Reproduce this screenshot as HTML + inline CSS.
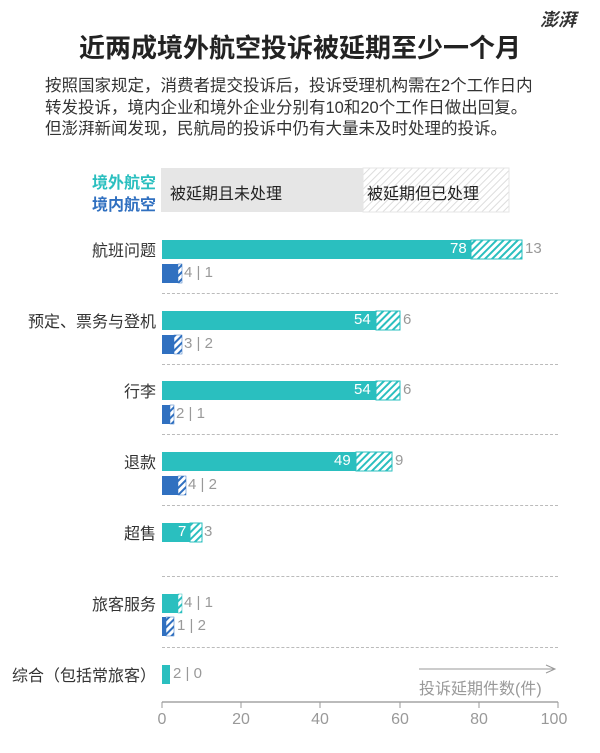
<!DOCTYPE html>
<html><head><meta charset="utf-8"><style>
body{margin:0;background:#fff;width:600px;height:753px;position:relative;overflow:hidden;font-family:"Liberation Sans","Noto Sans CJK SC",sans-serif}
.a{position:absolute;white-space:nowrap}
.lab{position:absolute;right:444px;font-size:16px;color:#333;text-align:right}
.v{position:absolute;font-size:15px;color:#999}
.dl{position:absolute;left:162px;width:396px;border-top:1px dashed #bbb;height:0}
</style></head><body>
<svg width="600" height="753" style="position:absolute;left:0;top:0">
<defs>
<pattern id="ht" width="5" height="5" patternUnits="userSpaceOnUse" patternTransform="rotate(45)"><rect width="5" height="5" fill="#fff"/><rect width="2" height="5" fill="#2abfbf"/></pattern>
<pattern id="hb" width="5" height="5" patternUnits="userSpaceOnUse" patternTransform="rotate(45)"><rect width="5" height="5" fill="#fff"/><rect width="2" height="5" fill="#3070c0"/></pattern>
<pattern id="hg" width="5" height="5" patternUnits="userSpaceOnUse" patternTransform="rotate(45)"><rect width="5" height="5" fill="#fff"/><rect width="1" height="5" fill="#ddd"/></pattern>
</defs>
<rect x="161" y="168" width="202" height="44" fill="#e6e6e6"/>
<rect x="363" y="168" width="146" height="44" fill="url(#hg)" stroke="#e6e6e6"/>
<g>
<rect x="162" y="240" width="309" height="19" fill="#2abfbf"/><rect x="471" y="240" width="51" height="19" fill="url(#ht)" stroke="#2abfbf"/>
<rect x="162" y="264" width="16" height="19" fill="#3070c0"/><rect x="178" y="264" width="4" height="19" fill="url(#hb)" stroke="#3070c0" stroke-width=".5"/>
<rect x="162" y="311" width="214" height="19" fill="#2abfbf"/><rect x="376" y="311" width="24" height="19" fill="url(#ht)" stroke="#2abfbf"/>
<rect x="162" y="335" width="12" height="19" fill="#3070c0"/><rect x="174" y="335" width="8" height="19" fill="url(#hb)" stroke="#3070c0" stroke-width=".5"/>
<rect x="162" y="381" width="214" height="19" fill="#2abfbf"/><rect x="376" y="381" width="24" height="19" fill="url(#ht)" stroke="#2abfbf"/>
<rect x="162" y="405" width="8" height="19" fill="#3070c0"/><rect x="170" y="405" width="4" height="19" fill="url(#hb)" stroke="#3070c0" stroke-width=".5"/>
<rect x="162" y="452" width="194" height="19" fill="#2abfbf"/><rect x="356" y="452" width="36" height="19" fill="url(#ht)" stroke="#2abfbf"/>
<rect x="162" y="476" width="16" height="19" fill="#3070c0"/><rect x="178" y="476" width="8" height="19" fill="url(#hb)" stroke="#3070c0" stroke-width=".5"/>
<rect x="162" y="523" width="28" height="19" fill="#2abfbf"/><rect x="190" y="523" width="12" height="19" fill="url(#ht)" stroke="#2abfbf"/>
<rect x="162" y="594" width="16" height="19" fill="#2abfbf"/><rect x="178" y="594" width="4" height="19" fill="url(#ht)" stroke="#2abfbf" stroke-width=".5"/>
<rect x="162" y="617" width="4" height="19" fill="#3070c0"/><rect x="166" y="617" width="8" height="19" fill="url(#hb)" stroke="#3070c0" stroke-width=".5"/>
<rect x="162" y="665" width="8" height="19" fill="#2abfbf"/>
</g>
<line x1="162" y1="702" x2="558" y2="702" stroke="#bbb" stroke-width="2"/>
<g stroke="#999"><line x1="162" y1="702" x2="162" y2="708"/><line x1="241" y1="702" x2="241" y2="708"/><line x1="320" y1="702" x2="320" y2="708"/><line x1="400" y1="702" x2="400" y2="708"/><line x1="479" y1="702" x2="479" y2="708"/><line x1="558" y1="702" x2="558" y2="708"/></g>
<line x1="419" y1="669" x2="554" y2="669" stroke="#999"/><path d="M546 665 L555 669 L546 673" fill="none" stroke="#999"/>
<g font-size="16" fill="#999" text-anchor="middle" font-family="Liberation Sans"><text x="162" y="724">0</text><text x="241" y="724">20</text><text x="320" y="724">40</text><text x="400" y="724">60</text><text x="479" y="724">80</text><text x="554" y="724">100</text></g>
</svg>
<div class="a" style="left:0;width:600px;top:28px;text-align:center;font-size:26px;font-weight:bold;color:#222">近两成境外航空投诉被延期至少一个月</div>
<div class="a" style="left:540px;top:6px;font-size:18px;font-weight:bold;color:#333;font-style:italic">澎湃</div>
<div class="a" style="left:45px;top:76px;font-size:16.5px;line-height:21.5px;color:#333">按照国家规定，消费者提交投诉后，投诉受理机构需在2个工作日内<br>转发投诉，境内企业和境外企业分别有10和20个工作日做出回复。<br>但澎湃新闻发现，民航局的投诉中仍有大量未及时处理的投诉。</div>
<div class="a" style="right:444px;top:169px;font-size:16px;font-weight:bold;color:#2abfbf">境外航空</div>
<div class="a" style="right:444px;top:191px;font-size:16px;font-weight:bold;color:#3070c0">境内航空</div>
<div class="a" style="left:170px;top:180px;font-size:16px;color:#222">被延期且未处理</div>
<div class="a" style="left:367px;top:180px;font-size:16px;color:#222">被延期但已处理</div>
<div class="lab" style="top:237px">航班问题</div>
<div class="lab" style="top:308px">预定、票务与登机</div>
<div class="lab" style="top:378px">行李</div>
<div class="lab" style="top:449px">退款</div>
<div class="lab" style="top:520px">超售</div>
<div class="lab" style="top:591px">旅客服务</div>
<div class="lab" style="top:662px">综合（包括常旅客）</div>
<div class="v" style="left:450px;top:240px;color:#fff">78</div><div class="v" style="left:525px;top:240px">13</div>
<div class="v" style="left:184px;top:264px">4 | 1</div>
<div class="v" style="left:354px;top:311px;color:#fff">54</div><div class="v" style="left:403px;top:311px">6</div>
<div class="v" style="left:184px;top:335px">3 | 2</div>
<div class="v" style="left:354px;top:381px;color:#fff">54</div><div class="v" style="left:403px;top:381px">6</div>
<div class="v" style="left:176px;top:405px">2 | 1</div>
<div class="v" style="left:334px;top:452px;color:#fff">49</div><div class="v" style="left:395px;top:452px">9</div>
<div class="v" style="left:188px;top:476px">4 | 2</div>
<div class="v" style="left:178px;top:523px;color:#fff">7</div><div class="v" style="left:204px;top:523px">3</div>
<div class="v" style="left:184px;top:594px">4 | 1</div>
<div class="v" style="left:177px;top:617px">1 | 2</div>
<div class="v" style="left:173px;top:665px">2 | 0</div>
<div class="dl" style="top:293px"></div><div class="dl" style="top:364px"></div><div class="dl" style="top:434px"></div><div class="dl" style="top:505px"></div><div class="dl" style="top:576px"></div><div class="dl" style="top:647px"></div>
<div class="a" style="left:419px;top:675px;font-size:16px;color:#999">投诉延期件数(件)</div>
</body></html>
